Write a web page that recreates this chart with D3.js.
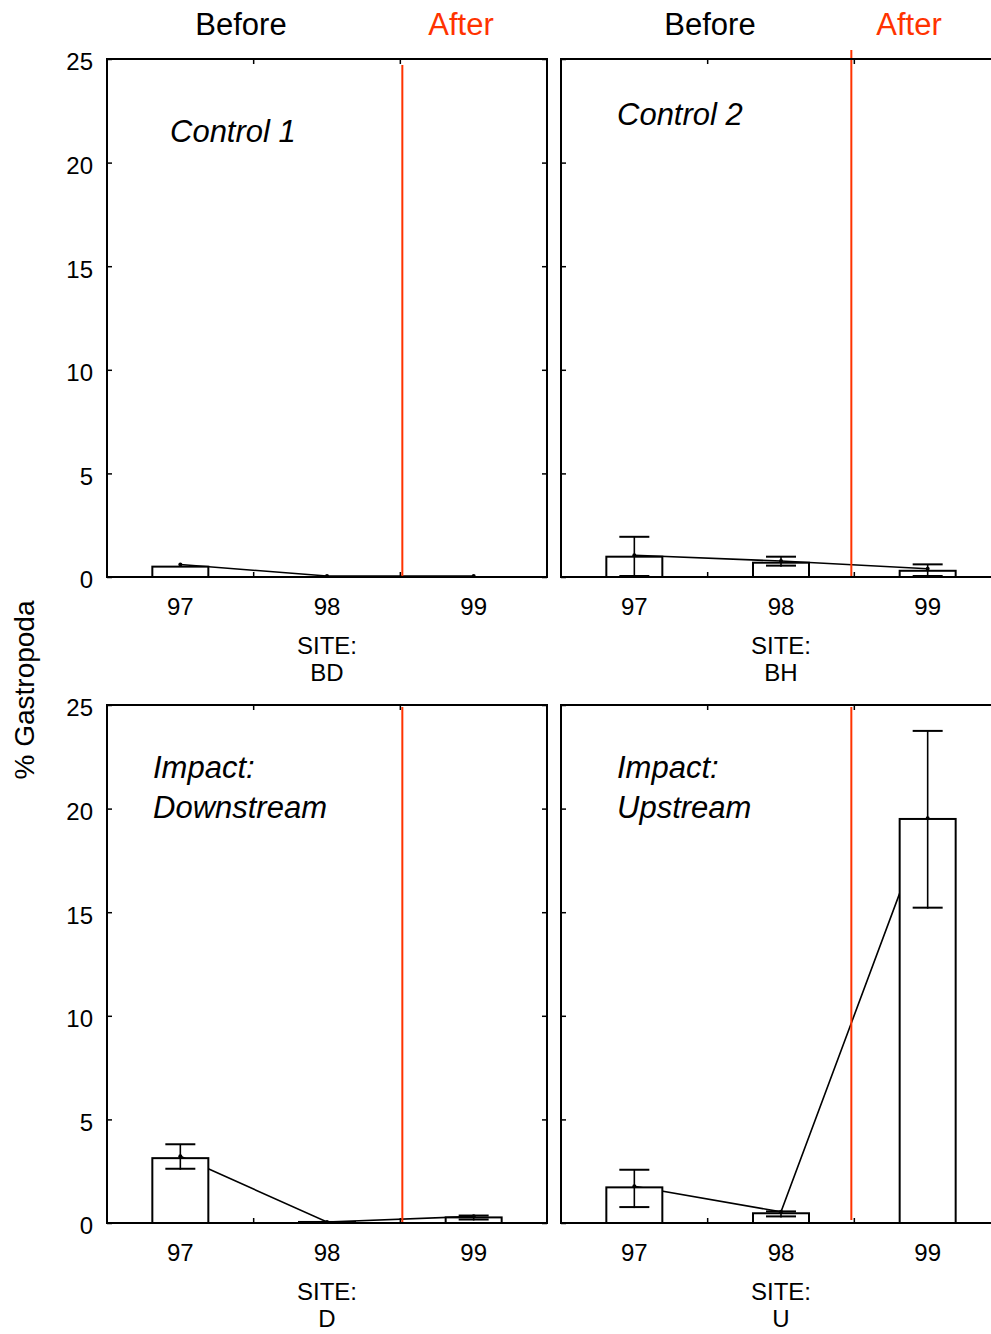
<!DOCTYPE html>
<html>
<head>
<meta charset="utf-8">
<script src="https://cdn.jsdelivr.net/npm/d3@7"></script>
<style>
  body { margin: 0; background: #fff; }
  text { font-family: "Liberation Sans", Arial, sans-serif; }
</style>
</head>
<body>
<svg id="chart" width="991" height="1334"></svg>
<script>
// years on the x axis and the four sites
var years = ["97", "98", "99"]
var sites = ["BD", "BH", "D", "U"]
var titles = [["Control 1"], ["Control 2"], ["Impact:", "Downstream"], ["Impact:", "Upstream"]]
var yTicks = [0, 5, 10, 15, 20, 25]

// bar heights, means and error bar ends (one row per site)
var barHeights = [
  [0.5, 0, 0],
  [0.98, 0.69, 0.3],
  [3.13, 0.05, 0.27],
  [1.72, 0.47, 19.5]
]
var means = [
  [0.6, 0.05, 0.05],
  [1.05, 0.77, 0.4],
  [3.22, 0.05, 0.32],
  [1.77, 0.54, 19.54]
]
var errUpper = [
  [null, null, null],
  [1.94, 0.98, 0.61],
  [3.8, null, 0.36],
  [2.57, 0.56, 23.75]
]
var errLower = [
  [null, null, null],
  [0, 0.5, 0],
  [2.57, null, 0.12],
  [0.72, 0.27, 15.17]
]

const svg = d3.select("#chart")
const red = "#ff3300"

const panels = [
  {x: 107, y: 59,  redTop: 65, redBot: 577, redDx: 2, titleX: 170, titleY: 142, before: 241, after: 461, labels: true},
  {x: 561, y: 59,  redTop: 50, redBot: 577, redDx: -3, titleX: 617, titleY: 125, before: 710, after: 909, labels: false},
  {x: 107, y: 705, redTop: 707, redBot: 1222, redDx: 2, titleX: 153, titleY: 778, labels: true},
  {x: 561, y: 705, redTop: 707, redBot: 1220, redDx: -3, titleX: 617, titleY: 778, labels: false}
]
const width = 440
const height = 518

const x = d3.scaleBand().domain(years).range([0, width]).padding(0)
const y = d3.scaleLinear().domain([0, 25]).range([height, 0])
const barW = 56
const capW = 30

panels.forEach(function(p, i) {
  const g = svg.append("g").attr("transform", "translate(" + p.x + "," + p.y + ")")
  const cx = d => x(d) + x.bandwidth() / 2

  // line through the means (drawn under the bars)
  const line = d3.line().x((d, j) => cx(years[j])).y(d => y(d))
  g.append("path")
    .attr("d", line(means[i]))
    .attr("fill", "none")
    .attr("stroke", "#000")
    .attr("stroke-width", 1.6)

  // bars
  g.selectAll(".bar")
    .data(years)
    .enter()
    .append("rect")
    .attr("x", d => cx(d) - barW / 2)
    .attr("width", barW)
    .attr("y", (d, j) => y(barHeights[i][j]))
    .attr("height", (d, j) => height - y(barHeights[i][j]))
    .attr("fill", "#fff")
    .attr("stroke", "#000")
    .attr("stroke-width", 2)

  // error bars
  years.forEach(function(d, j) {
    const hi = errUpper[i][j], lo = errLower[i][j]
    if (hi == null) return
    const c = cx(d)
    g.append("line").attr("x1", c).attr("x2", c).attr("y1", y(hi)).attr("y2", y(lo))
      .attr("stroke", "#000").attr("stroke-width", 1.6)
    g.append("line").attr("x1", c - capW / 2).attr("x2", c + capW / 2).attr("y1", y(hi)).attr("y2", y(hi))
      .attr("stroke", "#000").attr("stroke-width", 2)
    g.append("line").attr("x1", c - capW / 2).attr("x2", c + capW / 2).attr("y1", y(lo) - 1).attr("y2", y(lo) - 1)
      .attr("stroke", "#000").attr("stroke-width", 2)
  })

  // mean dots
  g.selectAll(".dot")
    .data(means[i])
    .enter()
    .append("circle")
    .attr("cx", (d, j) => cx(years[j]))
    .attr("cy", d => y(d))
    .attr("r", 2)
    .attr("fill", "#000")

  // red before/after divider
  const xr = x("99") + p.redDx
  g.append("line")
    .attr("x1", xr).attr("x2", xr)
    .attr("y1", p.redTop - p.y).attr("y2", p.redBot - p.y)
    .attr("stroke", red).attr("stroke-width", 2)

  // y axes, ticks inward on both sides
  const left = g.append("g")
    .call(d3.axisLeft(y).tickValues(yTicks).tickSizeInner(-5).tickSizeOuter(0).tickPadding(14)
      .tickFormat(p.labels ? d3.format("d") : ""))
  left.select(".domain").remove()
  left.selectAll("line").attr("stroke-width", 1.5)
  left.selectAll("text").style("font-size", "24px").attr("fill", "#000").attr("dy", "0.45em")

  const right = g.append("g").attr("transform", "translate(" + width + ",0)")
    .call(d3.axisRight(y).tickValues(yTicks).tickSizeInner(-5).tickSizeOuter(0).tickFormat(""))
  right.select(".domain").remove()
  right.selectAll("line").attr("stroke-width", 1.5)

  // x axis labels
  const bottom = g.append("g").attr("transform", "translate(0," + height + ")")
    .call(d3.axisBottom(x).tickSize(0).tickPadding(0))
  bottom.select(".domain").remove()
  bottom.selectAll("text").style("font-size", "24px").attr("fill", "#000").attr("dy", null).attr("y", 38)

  // band boundary ticks, top and bottom
  years.slice(1).forEach(function(d) {
    g.append("line").attr("x1", x(d)).attr("x2", x(d)).attr("y1", height).attr("y2", height - 5)
      .attr("stroke", "#000").attr("stroke-width", 1.5)
    g.append("line").attr("x1", x(d)).attr("x2", x(d)).attr("y1", 0).attr("y2", 5)
      .attr("stroke", "#000").attr("stroke-width", 1.5)
  })

  // frame
  g.append("rect").attr("width", width).attr("height", height)
    .attr("fill", "none").attr("stroke", "#000").attr("stroke-width", 2)

  // site label
  g.append("text").attr("x", width / 2).attr("y", height + 77).attr("text-anchor", "middle")
    .style("font-size", "24px").text("SITE:")
  g.append("text").attr("x", width / 2).attr("y", height + 104).attr("text-anchor", "middle")
    .style("font-size", "24px").text(sites[i])

  // panel title
  titles[i].forEach(function(t, k) {
    svg.append("text").attr("x", p.titleX).attr("y", p.titleY + k * 40)
      .style("font-size", "31px").style("font-style", "italic").text(t)
  })

  // before / after headers on the top row
  if (p.before) {
    svg.append("text").attr("x", p.before).attr("y", 35).attr("text-anchor", "middle")
      .style("font-size", "31px").text("Before")
    svg.append("text").attr("x", p.after).attr("y", 35).attr("text-anchor", "middle")
      .style("font-size", "31px").attr("fill", red).text("After")
  }
})

// y axis title
svg.append("text")
  .attr("transform", "translate(34,690) rotate(-90)")
  .attr("text-anchor", "middle")
  .style("font-size", "28px")
  .text("% Gastropoda")
</script>
</body>
</html>
